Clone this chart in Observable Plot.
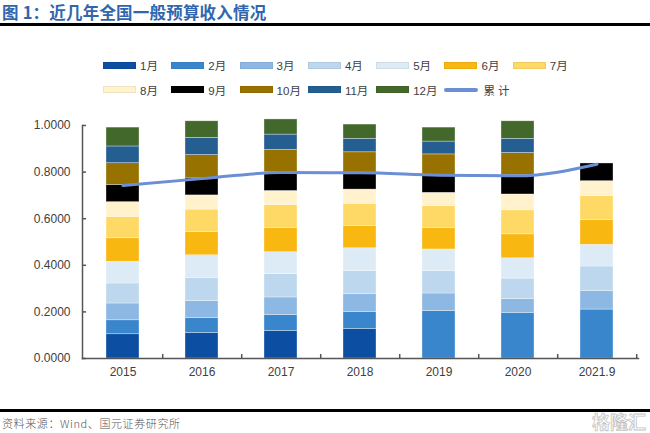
<!DOCTYPE html>
<html><head><meta charset="utf-8">
<script src="https://cdn.jsdelivr.net/npm/d3@7"></script>
<script src="https://cdn.jsdelivr.net/npm/@observablehq/plot@0.6"></script>
<style>
body{margin:0;background:#fff;}
#wrap{position:relative;width:650px;height:433px;overflow:hidden;font-family:"Liberation Sans","Noto Sans CJK SC",sans-serif;}
#title{position:absolute;left:2px;top:0px;font-size:16.5px;font-weight:bold;color:#3166ae;font-family:"Noto Sans CJK SC",sans-serif;letter-spacing:0.2px;line-height:24px;}
#rule1{position:absolute;left:0;top:23px;width:650px;height:2.5px;background:#000;}
#legend{position:absolute;left:103px;top:58px;display:grid;grid-template-columns:repeat(7,68.3px);row-gap:10.5px;}
.item{display:flex;align-items:center;height:14px;font-size:11.5px;color:#404040;white-space:nowrap;}
.sw{width:33px;height:7px;margin-right:4px;box-sizing:border-box;border:0.5px solid rgba(0,0,0,0.06);}
.ln{width:34px;height:4px;border-radius:2px;margin-right:5px;}
#chart{position:absolute;left:0;top:100px;}
#rule2{position:absolute;left:0;top:409px;width:650px;height:2.5px;background:#000;}
#source{position:absolute;left:2px;top:415px;font-size:11px;color:#555;font-family:"Noto Sans CJK SC",sans-serif;font-weight:300;line-height:16px;letter-spacing:0.6px;}
#wm{position:absolute;right:4px;top:409px;font-size:18px;font-weight:bold;color:#fff;-webkit-text-stroke:0.8px #c4c4c4;font-family:"Noto Sans CJK SC",sans-serif;line-height:24px;}
</style></head>
<body>
<div id="wrap">
  <div id="title">图 1：近几年全国一般预算收入情况</div>
  <div id="rule1"></div>
  <div id="legend"></div>
  <div id="chart"></div>
  <div id="rule2"></div>
  <div id="source">资料来源：Wind、国元证券研究所</div>
  <div id="wm">格隆汇</div>
</div>
<script>
const years = ["2015","2016","2017","2018","2019","2020","2021.9"];
const months = ["1月","2月","3月","4月","5月","6月","7月","8月","9月","10月","11月","12月"];
const monthColors = ["#0b4ea2","#3a86cc","#8db8e3","#bdd7ee","#ddebf7","#f9b712","#ffd966","#fff2cc","#000000","#987200","#255e91","#43682b"];
const lineLabel = "累计";
const lineColor = "#6b8fd5";

// monthly values per year (1月..12月)
const v2015 = [0.104,0.060,0.072,0.086,0.093,0.101,0.092,0.063,0.074,0.093,0.072,0.081];
const v2016 = [0.110,0.064,0.073,0.099,0.097,0.100,0.096,0.061,0.073,0.100,0.074,0.071];
const v2017 = [0.118,0.068,0.076,0.100,0.094,0.105,0.097,0.061,0.082,0.094,0.066,0.065];
const v2018 = [0.127,0.073,0.076,0.100,0.097,0.096,0.095,0.061,0.066,0.094,0.058,0.061];
const v2019 = [0,0.203,0.076,0.097,0.092,0.093,0.093,0.057,0.076,0.089,0.055,0.060];
const v2020 = [0,0.196,0.059,0.088,0.087,0.103,0.103,0.068,0.083,0.095,0.061,0.075];
const v2021 = [0,0.210,0.079,0.106,0.093,0.106,0.103,0.064,0.076,0,0,0];
// cumulative (累计) line
const cumulative = [0.742,0.772,0.798,0.797,0.787,0.784,0.834];
const yTicks = [0,0.2,0.4,0.6,0.8,1.0];

const series = [v2015,v2016,v2017,v2018,v2019,v2020,v2021];
const table = [];
years.forEach((y,i)=>months.forEach((m,j)=>{ if(series[i][j]>0) table.push({year:y,month:m,value:series[i][j]}); }));
const lineData = years.map((y,i)=>({year:y,value:cumulative[i]}));

// legend
const leg = document.getElementById("legend");
months.forEach((m,j)=>{
  const d=document.createElement("div"); d.className="item";
  d.innerHTML=`<span class="sw" style="background:${monthColors[j]}"></span><span>${m}</span>`;
  leg.appendChild(d);
});
{
  const d=document.createElement("div"); d.className="item";
  d.innerHTML=`<span class="ln" style="background:${lineColor}"></span><span style="letter-spacing:3px">${lineLabel}</span>`;
  leg.appendChild(d);
}

const W=650, ML=82, MR=12;
const step=(W-ML-MR)/years.length;
const chart = Plot.plot({
  width:W, height:290, marginLeft:ML, marginRight:MR, marginTop:25, marginBottom:32,
  style:{fontFamily:"Liberation Sans, Arial, sans-serif", fontSize:"12px", color:"#404040", background:"transparent"},
  x:{domain:years, paddingInner:0.58, paddingOuter:0.29, label:null},
  y:{domain:[0,1], label:null},
  color:{domain:months, range:monthColors},
  marks:[
    Plot.barY(table,{x:"year",y:"value",fill:"month",stroke:"#ffffff",strokeOpacity:0.55,strokeWidth:0.6}),
    Plot.line(lineData,{x:"year",y:"value",stroke:lineColor,strokeWidth:3,curve:"monotone-x"}),
    Plot.axisY({ticks:yTicks,tickFormat:d3.format(".4f"),tickSize:0,tickPadding:12,fontSize:12,label:null}),
    Plot.axisY({ticks:yTicks,tickFormat:()=>"",tickSize:-4,stroke:"#555",strokeWidth:1.5,label:null}),
    Plot.axisX({tickSize:0,tickPadding:9,fontSize:12,label:null}),
    Plot.axisX({tickSize:-4,tickFormat:()=>"",dx:step/2,stroke:"#555",strokeWidth:1.5,label:null}),
    Plot.frame({anchor:"left",stroke:"#555",strokeWidth:1.5}),
    Plot.frame({anchor:"bottom",stroke:"#555",strokeWidth:1.5})
  ]
});
document.getElementById("chart").appendChild(chart);
</script>
</body></html>
